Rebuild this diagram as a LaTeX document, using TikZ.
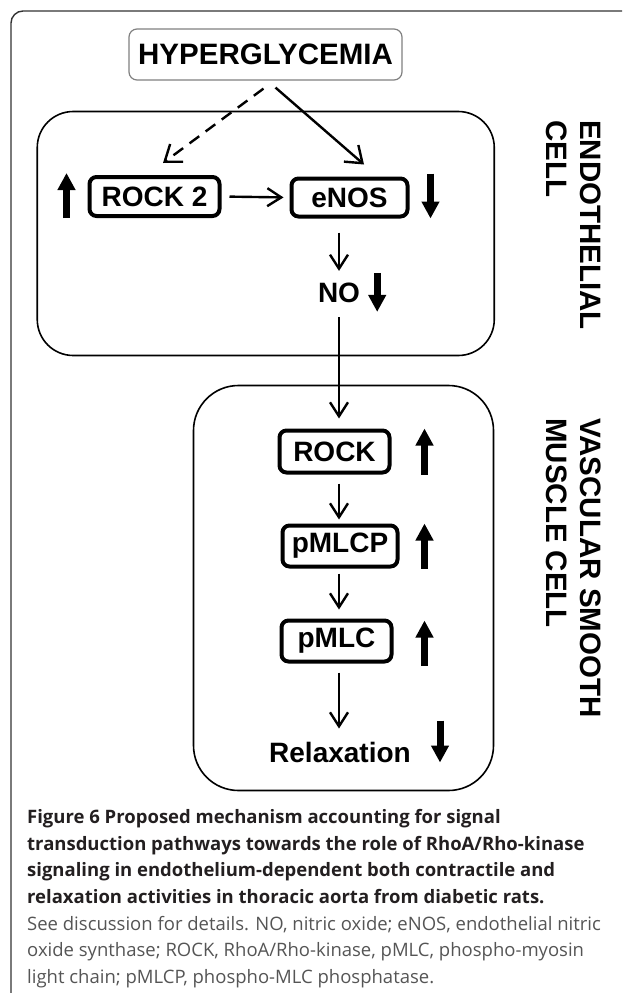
\documentclass[tikz,border=0pt]{standalone}
\usepackage{fontspec}
\setmainfont{Liberation Sans}
\newfontfamily\capfont{Open Sans}
\usetikzlibrary{arrows.meta,positioning}
\definecolor{captxt}{RGB}{35,31,32}
\definecolor{capgray}{RGB}{85,85,85}

\begin{document}
\begin{tikzpicture}[x=1pt,y=-1pt,
	box/.style={draw,line width=4pt,rounded corners=7pt,inner sep=0pt,font=\fontsize{28}{30}\selectfont\bfseries},
	cell/.style={draw,line width=1.6pt,inner sep=0pt},
	plain/.style={inner sep=0pt,font=\fontsize{28}{30}\selectfont\bfseries},
	flow/.style={line width=2.4pt,-{Straight Barb[length=14pt,width=18pt]}},
	slant/.style={line width=2.4pt,-{Straight Barb[length=15pt,width=22pt]}},
	fatarrow/.style={line width=7pt,-{Triangle[length=17pt,width=17pt]}},
	celltext/.style={rotate=-90,align=left,inner sep=0pt,font=\fontsize{29.5}{34}\selectfont\bfseries}]
	\useasboundingbox (0,0) rectangle (622,993);
	% marco de la figura
	\draw[line width=1.4pt,black!80,rounded corners=12pt] (11,993) -- (11,11) -- (622,11);
	% Celulas
	\node[cell,rounded corners=36pt,minimum width=457pt,minimum height=244pt] (endo) at (265.75,233.5) {};
	\node[cell,rounded corners=45pt,minimum width=300pt,minimum height=405pt] (vsmc) at (343.5,588) {};
	\node[celltext,anchor=north west] (endolabel) at (601,120) {ENDOTHELIAL\\CELL};
	\node[celltext,anchor=north west] (vsmclabel) at (601,418) {VASCULAR SMOOTH\\MUSCLE CELL};
	% Nivel endotelial
	\node[draw=black!50,line width=1.2pt,rounded corners=8pt,inner sep=0pt,minimum width=273pt,minimum height=51pt,
		font=\fontsize{29.5}{31}\selectfont\bfseries] (hyper) at (265.5,54.5) {HYPERGLYCEMIA};
	\node[box,minimum width=130pt,minimum height=39pt] (rock2) at (154.5,196.5) {ROCK 2};
	\node[box,minimum width=116pt,minimum height=38pt] (enos) at (349.5,197.5) {eNOS};
	\node[plain] (no) at (339,293) {NO};
	\draw[slant,dash pattern=on 12pt off 8pt] ([shift={(-2,8)}]hyper.south) -- ([shift={(8.5,-12)}]rock2.north);
	\draw[slant] ([shift={(10,7)}]hyper.south) -- ([shift={(14.5,-12)}]enos.north);
	\draw[flow,shorten <=8pt,shorten >=6pt] (rock2.east) -- (enos.west);
	\draw[flow,shorten <=14pt,shorten >=12pt] (enos.south -| no.north) -- (no.north);
	\draw[fatarrow] ([xshift=-21pt]rock2.south west) -- ([shift={(-21,-2)}]rock2.north west);
	\draw[fatarrow] ([shift={(21,-3)}]enos.north east) -- ([xshift=21pt]enos.south east);
	\draw[fatarrow] ([shift={(17,-10)}]no.north east) -- ++(0,39);
	% Nivel musculo liso
	\node[box,minimum width=110pt,minimum height=42pt] (rock) at (334.5,451.5) {ROCK};
	\node[box,minimum width=115pt,minimum height=41pt] (pmlcp) at (340,546) {pMLCP};
	\node[box,minimum width=110pt,minimum height=41pt] (pmlc) at (336.5,641) {pMLC};
	\node[plain] (relax) at (340,752) {Relaxation};
	\draw[flow,shorten <=14pt,shorten >=10pt] (no.south) -- (no.south |- rock.north);
	\draw[flow,shorten <=9pt,shorten >=4pt] (rock.south -| no) -- (pmlcp.north -| no);
	\draw[flow,shorten <=5pt,shorten >=9pt] (pmlcp.south -| no) -- (pmlc.north -| no);
	\draw[flow,shorten <=9pt,shorten >=13pt] (pmlc.south -| no) -- (relax.north -| no);
	\draw[fatarrow] ([xshift=33pt]rock.south east) -- ([xshift=33pt]rock.north east);
	\draw[fatarrow] ([xshift=25pt]pmlcp.south east) -- ([xshift=25pt]pmlcp.north east);
	\draw[fatarrow] ([shift={(31,2)}]pmlc.south east) -- ([shift={(31,2)}]pmlc.north east);
	\draw[fatarrow] ([shift={(29,-21)}]relax.north east) -- ++(0,42);
	% Leyenda
	\node[anchor=north west,align=left,inner sep=0pt,font=\capfont\fontsize{18.5}{26.7}\selectfont] (caption) at (27,809)
	{\color{captxt}\bfseries Figure 6 Proposed mechanism accounting for signal\\
	\color{captxt}\bfseries transduction pathways towards the role of RhoA/Rho-kinase\\
	\color{captxt}\bfseries signaling in endothelium-dependent both contractile and\\
	\color{captxt}\bfseries relaxation activities in thoracic aorta from diabetic rats.\\
	\color{capgray}See discussion for details. NO, nitric oxide; eNOS, endothelial nitric\\
	\color{capgray}oxide synthase; ROCK, RhoA/Rho-kinase, pMLC, phospho-myosin\\
	\color{capgray}light chain; pMLCP, phospho-MLC phosphatase.};
\end{tikzpicture}
\end{document}
